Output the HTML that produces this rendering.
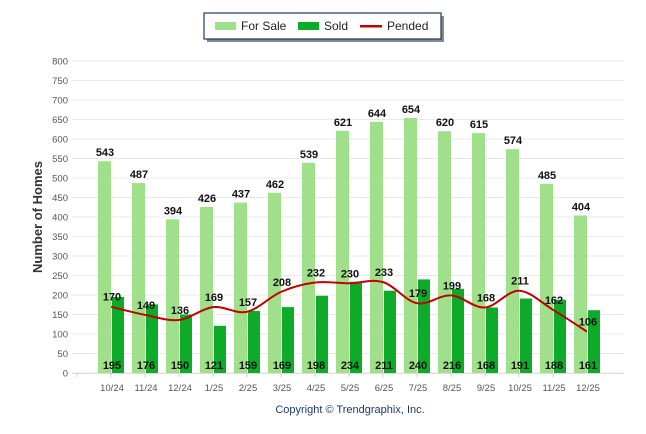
<!DOCTYPE html>
<html><head><style>body{margin:0;background:#fff}svg{display:block}</style></head><body>
<svg width="646" height="434" xmlns="http://www.w3.org/2000/svg" font-family="Liberation Sans, Arial, sans-serif">
<rect x="207" y="16" width="237" height="26" fill="#888"/>
<rect x="204" y="13" width="237" height="26" fill="#fff" stroke="#1f3864" stroke-width="1.2"/>
<rect x="215" y="22" width="21" height="8" fill="#a0e08a"/>
<text x="241" y="30" font-size="12" fill="#222">For Sale</text>
<rect x="298" y="22" width="21" height="8" fill="#0eaa2a"/>
<text x="324" y="30" font-size="12" fill="#222">Sold</text>
<rect x="360" y="25" width="22" height="2.5" fill="#c00000"/>
<text x="387" y="30" font-size="12" fill="#222">Pended</text>
<g id="grid"></g>
<text transform="translate(42,217) rotate(-90)" text-anchor="middle" font-size="13" font-weight="bold" fill="#333">Number of Homes</text>
<text x="350" y="413" text-anchor="middle" font-size="11" fill="#1f3864">Copyright © Trendgraphix, Inc.</text>
<g id="c"></g>
<script>
var NS="http://www.w3.org/2000/svg",g=document.getElementById('c');
function el(t,a,txt){var e=document.createElementNS(NS,t);for(var k in a)e.setAttribute(k,a[k]);if(txt!=null)e.textContent=txt;g.appendChild(e);return e}
function Y(v){return 373-v*0.39}
for(var v=0;v<=800;v+=50){el('line',{x1:72,x2:624,y1:Y(v),y2:Y(v),stroke:'#e8e8e8','stroke-width':1});
el('text',{x:68,y:Y(v)+3.5,'text-anchor':'end','font-size':9.5,fill:'#555'},v);}
el('line',{x1:72,x2:624,y1:373.5,y2:373.5,stroke:'#ddd'});
var L=['10/24','11/24','12/24','1/25','2/25','3/25','4/25','5/25','6/25','7/25','8/25','9/25','10/25','11/25','12/25'];
var F=[543,487,394,426,437,462,539,621,644,654,620,615,574,485,404];
var S=[195,176,150,121,159,169,198,234,211,240,216,168,191,188,161];
var P=[170,149,136,169,157,208,232,230,233,179,199,168,211,162,106];
var pts=[];
for(var i=0;i<15;i++){var c=111+i*34;
el('line',{x1:c-34+17-17+0,x2:c-34+17-17+0,y1:373,y2:377,stroke:'#ccc'});
el('rect',{x:c-13,y:Y(F[i]),width:13,height:F[i]*0.39,fill:'#a0e08a'});
el('rect',{x:c+1,y:Y(S[i]),width:12,height:S[i]*0.39,fill:'#0eaa2a'});
el('text',{x:c-6,y:Y(F[i])-5,'text-anchor':'middle','font-size':11,'font-weight':'bold',fill:'#111'},F[i]);
el('text',{x:c+1,y:369,'text-anchor':'middle','font-size':11,'font-weight':'bold',fill:'#111'},S[i]);
el('text',{x:c+1,y:391,'text-anchor':'middle','font-size':9.5,fill:'#555'},L[i]);
pts.push([c,Y(P[i])]);}
var d='M'+pts[0][0]+','+pts[0][1];
for(var i=0;i<14;i++){var p0=pts[Math.max(i-1,0)],p1=pts[i],p2=pts[i+1],p3=pts[Math.min(i+2,14)];
d+=' C'+(p1[0]+(p2[0]-p0[0])/6)+','+(p1[1]+(p2[1]-p0[1])/6)+' '+(p2[0]-(p3[0]-p1[0])/6)+','+(p2[1]-(p3[1]-p1[1])/6)+' '+p2[0]+','+p2[1];}
el('path',{d:d,fill:'none',stroke:'#c00000','stroke-width':2});
for(var i=0;i<15;i++)el('text',{x:pts[i][0]+1,y:pts[i][1]-6,'text-anchor':'middle','font-size':11,'font-weight':'bold',fill:'#111'},P[i]);
</script>
</svg>
</body></html>
